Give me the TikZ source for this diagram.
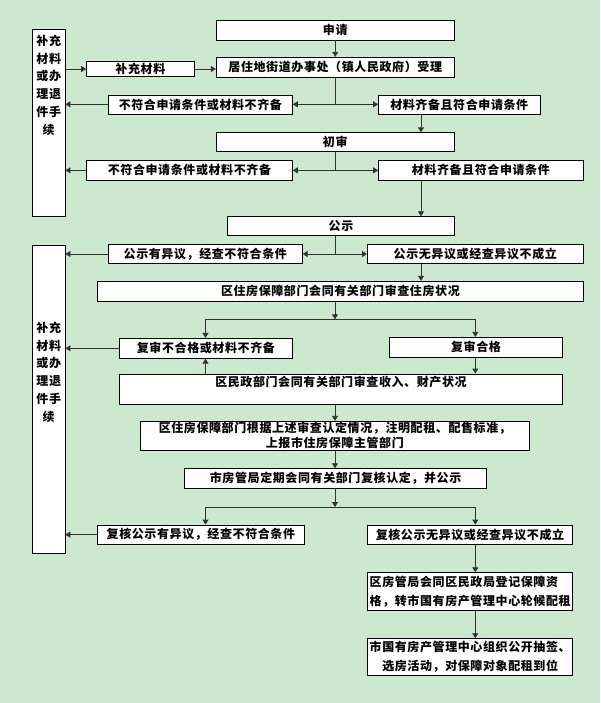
\documentclass[tikz,border=0pt]{standalone}
\usepackage{fontspec}
\newfontfamily\cjk[LetterSpace=5]{Noto Sans CJK SC}
\usetikzlibrary{arrows.meta}
\definecolor{bg}{RGB}{204,232,207}
\begin{document}
\begin{tikzpicture}[x=1pt,y=-1pt,
  box/.style={draw=black, line width=0.8pt, fill=white, inner sep=0pt, align=center,
    font=\cjk\bfseries\fontsize{12}{15}\selectfont},
  txt/.style={inner sep=0pt, align=center, font=\cjk\bfseries\fontsize{12}{17.8}\selectfont},
  conn/.style={line width=0.8pt, draw=black!80},
  arr/.style={conn, -{Triangle[length=5pt,width=6pt]}}]
\fill[bg] (0,0) rectangle (600,703);
\useasboundingbox (0,0) rectangle (600,703);

% left boxes
\node[box, minimum width=32.5pt, minimum height=187.2pt] (L1) at (48.75,122.9) {};
\node[txt] (L1t) at (48.75,85.2) {补充\\材料\\或办\\理退\\件手\\续};
\node[box, minimum width=32.5pt, minimum height=308pt] (L2) at (48.75,399.3) {};
\node[txt] (L2t) at (48.75,372.2) {补充\\材料\\或办\\理退\\件手\\续};

% main boxes
\node[box, minimum width=238.1pt, minimum height=19.3pt] (sq) at (335.25,30.35) {申请};
\node[box, minimum width=107.9pt, minimum height=14.6pt] (bc) at (140.45,69) {补充材料};
\node[box, minimum width=238.1pt, minimum height=20pt] (jz) at (335.25,67.3) {居住地街道办事处（镇人民政府）受理};
\node[box, minimum width=184.1pt, minimum height=18.3pt] (nf1) at (200.35,104.85) {不符合申请条件或材料不齐备};
\node[box, minimum width=161.5pt, minimum height=18.3pt] (ok1) at (459.25,104.85) {材料齐备且符合申请条件};
\node[box, minimum width=238.1pt, minimum height=18.6pt] (cs) at (335.25,142) {初审};
\node[box, minimum width=205.9pt, minimum height=19.3pt] (nf2) at (189.45,170.35) {不符合申请条件或材料不齐备};
\node[box, minimum width=204.7pt, minimum height=19.3pt] (ok2) at (480.85,170.35) {材料齐备且符合申请条件};
\node[box, minimum width=226.6pt, minimum height=18.3pt] (gs) at (341,225.85) {公示};
\node[box, minimum width=194pt, minimum height=18.6pt] (gy) at (205.3,254) {公示有异议，经查不符合条件};
\node[box, minimum width=215.8pt, minimum height=18.6pt] (gw) at (475.3,254) {公示无异议或经查异议不成立};
\node[box, minimum width=485.6pt, minimum height=20pt] (zf) at (340.4,291.3) {区住房保障部门会同有关部门审查住房状况};
\node[box, minimum width=173pt, minimum height=20pt] (fb) at (205.9,348.3) {复审不合格或材料不齐备};
\node[box, minimum width=172.9pt, minimum height=20pt] (fh) at (476.05,347.3) {复审合格};
\node[box, minimum width=443.1pt, minimum height=30.3pt] (mz) at (340.95,389.15) {区民政部门会同有关部门审查收入、财产状况\\~};
\node[box, minimum width=388.9pt, minimum height=28.7pt] (gj) at (334.85,435.65) {区住房保障部门根据上述审查认定情况，注明配租、配售标准，\\上报市住房保障主管部门};
\node[box, minimum width=301.6pt, minimum height=19.6pt] (sf) at (335.6,478.5) {市房管局定期会同有关部门复核认定，并公示};
\node[box, minimum width=206.6pt, minimum height=19.3pt] (hy) at (200.9,534.65) {复核公示有异议，经查不符合条件};
\node[box, minimum width=205.1pt, minimum height=19.3pt] (hw) at (469.95,534.65) {复核公示无异议或经查异议不成立};
\node[box, minimum width=205pt, minimum height=37.6pt, align=left, font=\cjk\bfseries\fontsize{12}{19}\selectfont] (fg) at (470.2,591.5) {区房管局会同区民政局登记保障资\\格，转市国有房产管理中心轮候配租};
\node[box, minimum width=205pt, minimum height=36.6pt, font=\cjk\bfseries\fontsize{12}{18.7}\selectfont] (sg) at (470.2,657) {市国有房产管理中心组织公开抽签、\\选房活动，对保障对象配租到位};

% helper coordinates
\coordinate (tx) at (335,0);
\coordinate (rx) at (421,0);
\coordinate (lx) at (205.5,0);
\coordinate (r2) at (475.3,0);
\coordinate (j1) at (335.25,104.3);
\coordinate (j2) at (335.25,170.35);
\coordinate (j3) at (335,254);
\coordinate (j4) at (335,319.3);
\coordinate (j5) at (335,507);

% connectors
\draw[arr] (sq.south) -- (jz.north);
\draw[arr] (L1.east |- bc.west) -- (bc.west);
\draw[arr] (bc.east) -- (bc.east -| jz.west);
\draw[conn] (jz.south) -- (j1);
\draw[arr] (j1) -- (j1 -| nf1.east);
\draw[arr] (j1) -- (j1 -| ok1.west);
\draw[arr] (nf1.west |- j1) -- (j1 -| L1.east);
\draw[arr] (rx |- ok1.south) -- (rx |- cs.north);

\draw[conn] (cs.south) -- (j2);
\draw[arr] (j2) -- (j2 -| nf2.east);
\draw[arr] (j2) -- (j2 -| ok2.west);
\draw[arr] (nf2.west) -- (nf2.west -| L1.east);
\draw[arr] (rx |- ok2.south) -- (rx |- gs.north);

\draw[conn] (tx |- gs.south) -- (j3);
\draw[arr] (j3) -- (j3 -| gy.east);
\draw[arr] (j3) -- (j3 -| gw.west);
\draw[arr] (gy.west) -- (gy.west -| L2.east);
\draw[arr] (rx |- gw.south) -- (rx |- zf.north);

\draw[arr] (tx |- zf.south) -- (j4);
\draw[conn] (lx |- j4) -- (r2 |- j4);
\draw[arr] (lx |- j4) -- (lx |- fb.north);
\draw[arr] (r2 |- j4) -- (r2 |- fh.north);
\draw[arr] (fb.west) -- (fb.west -| L2.east);
\draw[arr] (r2 |- fh.south) -- (r2 |- mz.north);
\draw[arr] (lx |- mz.north) -- (lx |- fb.south);
\draw[arr] (tx |- mz.south) -- (tx |- gj.north);
\draw[arr] (tx |- gj.south) -- (tx |- sf.north);

\draw[arr] (tx |- sf.south) -- (j5);
\draw[conn] (lx |- j5) -- (r2 |- j5);
\draw[arr] (lx |- j5) -- (lx |- hy.north);
\draw[arr] (r2 |- j5) -- (r2 |- hw.north);
\draw[arr] (hy.west) -- (hy.west -| L2.east);
\draw[arr] (r2 |- hw.south) -- (r2 |- fg.north);
\draw[arr] (r2 |- fg.south) -- (r2 |- sg.north);
\end{tikzpicture}
\end{document}
